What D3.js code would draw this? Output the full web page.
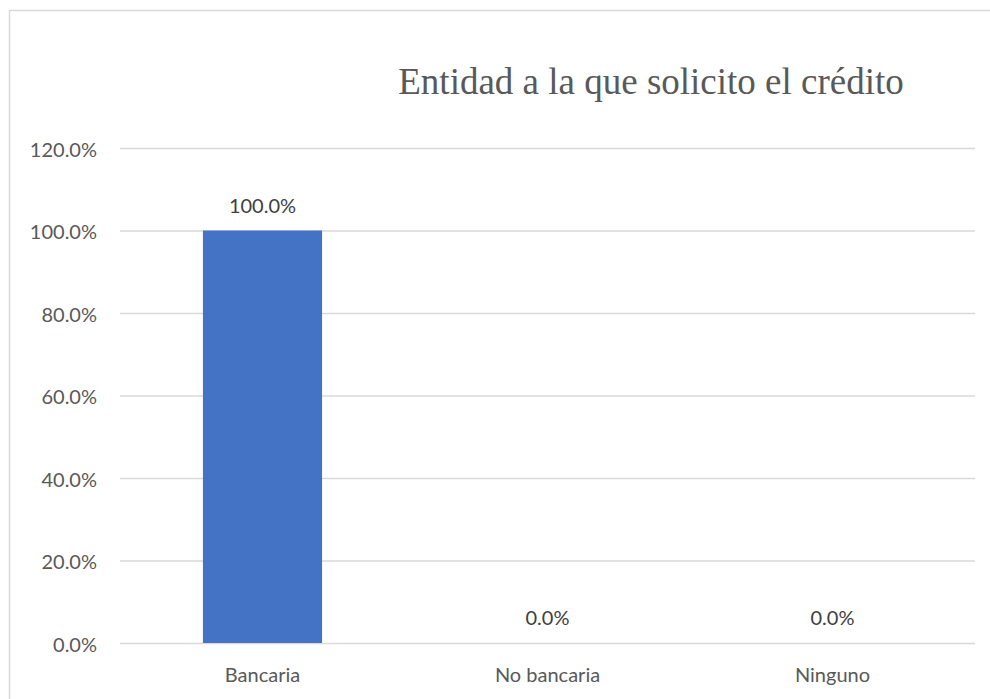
<!DOCTYPE html>
<html><head><meta charset="utf-8">
<script src="https://cdn.jsdelivr.net/npm/d3@7"></script>
<style>html,body{margin:0;padding:0;background:#fff;}svg{display:block;}</style>
</head><body>
<script>
const categories = ["Bancaria", "No bancaria", "Ninguno"];
const values = [1.0, 0.0, 0.0];
const yTicks = [0, 0.2, 0.4, 0.6, 0.8, 1.0, 1.2];
const title = "Entidad a la que solicito el crédito";

(function () {
const W = 990, H = 699;
const svg = d3.select("body").append("svg").attr("width", W).attr("height", H);

// outer frame
svg.append("rect").attr("x", 9.5).attr("y", 10.5).attr("width", W + 20).attr("height", H + 20)
  .attr("fill", "none").attr("stroke", "#d9d9d9").attr("stroke-width", 1.5);

const pL = 120, pR = 975, pT = 148, pB = 643;
const x = d3.scaleBand().domain(categories).range([pL, pR]).paddingInner(0.582).paddingOuter(0.291);
const y = d3.scaleLinear().domain([0, 1.2]).range([pB, pT]);

const labelFont = "Lato, 'Open Sans', sans-serif";
const fs = "20px";
const yAxis = d3.axisLeft(y).tickValues(yTicks).tickFormat(d3.format(".1%")).tickSize(-(pR - pL)).tickPadding(23);
const gy = svg.append("g").attr("transform", `translate(${pL},0)`).call(yAxis);
gy.select(".domain").remove();
gy.selectAll(".tick line").attr("stroke", "#d9d9d9").attr("stroke-width", 1.3);
gy.selectAll(".tick text").attr("fill", "#595959").attr("dy", "0.42em").style("font-family", labelFont).style("font-size", fs);

svg.append("g").selectAll("rect").data(values).join("rect")
  .attr("x", (d, i) => x(categories[i]))
  .attr("width", x.bandwidth())
  .attr("y", d => y(d))
  .attr("height", d => pB - y(d))
  .attr("fill", "#4472C4");

svg.append("g").selectAll("text").data(values).join("text")
  .attr("x", (d, i) => x(categories[i]) + x.bandwidth() / 2)
  .attr("y", d => y(d) - 18)
  .attr("text-anchor", "middle")
  .attr("fill", "#404040")
  .style("font-family", labelFont).style("font-size", fs)
  .text(d => d3.format(".1%")(d));

const xAxis = d3.axisBottom(x).tickSize(0).tickPadding(25);
const gx = svg.append("g").attr("transform", `translate(0,${pB})`).call(xAxis);
gx.select(".domain").remove();
gx.selectAll(".tick text").attr("fill", "#595959").style("font-family", labelFont).style("font-size", fs);

svg.append("text").attr("x", 651).attr("y", 94).attr("text-anchor", "middle")
  .attr("fill", "#595959").style("font-family", "'Liberation Serif', 'Times New Roman', serif").style("font-size", "37px")
  .text(title);
})();
</script>
</body></html>
